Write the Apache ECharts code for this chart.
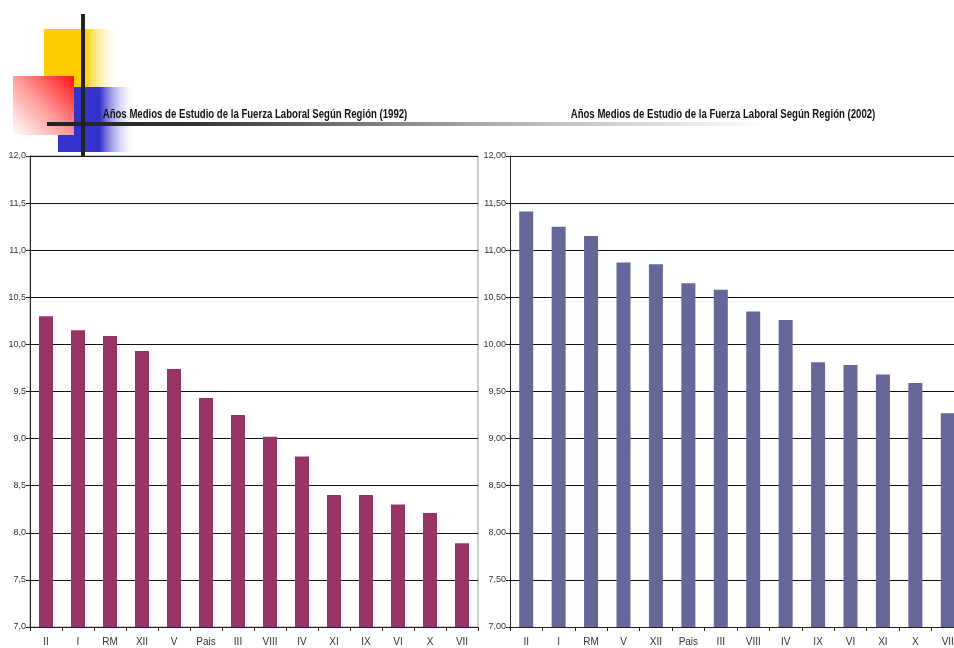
<!DOCTYPE html>
<html><head><meta charset="utf-8">
<script src="https://cdn.jsdelivr.net/npm/echarts@6/dist/echarts.min.js"></script>
<style>html,body{margin:0;padding:0;background:#fff}#c{width:954px;height:648px}</style>
</head><body><div id="c"></div>
<script>
const title1992 = 'Años Medios de Estudio de la Fuerza Laboral Según Región (1992)';
const title2002 = 'Años Medios de Estudio de la Fuerza Laboral Según Región (2002)';
const regions1992 = ['II','I','RM','XII','V','Pais','III','VIII','IV','XI','IX','VI','X','VII'];
const values1992 = [10.30,10.15,10.09,9.93,9.74,9.43,9.25,9.02,8.81,8.40,8.40,8.30,8.21,7.89];
const regions2002 = ['II','I','RM','V','XII','Pais','III','VIII','IV','IX','VI','XI','X','VII'];
const values2002 = [11.41,11.25,11.15,10.87,10.85,10.65,10.58,10.35,10.26,9.81,9.78,9.68,9.59,9.27];
const yMin = 7, yMax = 12, yStep = 0.5;

const FONT = '"Liberation Sans",Arial,sans-serif';
const chart = echarts.init(document.getElementById('c'));

function yAxis(idx, dec) {
  return {
    gridIndex: idx, type: 'value', min: yMin, max: yMax, interval: yStep,
    axisLine: {show: true, lineStyle: {color: '#222', width: 1}},
    axisTick: {show: true, length: 4, lineStyle: {color: '#222'}},
    axisLabel: {fontFamily: FONT, fontSize: 9, color: '#333', margin: 4,
      formatter: v => v.toFixed(dec).replace('.', ',')},
    splitLine: {show: true, lineStyle: {color: '#111', width: 1}}
  };
}
function xAxis(idx, cats) {
  return {
    gridIndex: idx, type: 'category', data: cats,
    axisLine: {show: true, lineStyle: {color: '#222', width: 1}},
    axisTick: {show: true, length: 4, lineStyle: {color: '#222'}},
    axisLabel: {fontFamily: FONT, fontSize: 10, color: '#333', margin: 10, interval: 0}
  };
}
function titleText(txt, cx) {
  return {type: 'text', z: 10, x: cx, y: 115, scaleX: 0.8, scaleY: 1,
    style: {text: txt, x: 0, y: 0, align: 'center', verticalAlign: 'middle',
      font: 'bold 12px ' + FONT, fill: '#111'}};
}

chart.setOption({
  animation: false,
  grid: [
    {left: 30, top: 156, width: 448, height: 471, outerBoundsMode: 'none',
     show: true, borderColor: '#999', borderWidth: 1, backgroundColor: 'transparent'},
    {left: 510, top: 156, width: 454, height: 471, outerBoundsMode: 'none'}
  ],
  xAxis: [xAxis(0, regions1992), xAxis(1, regions2002)],
  yAxis: [yAxis(0, 1), yAxis(1, 2)],
  series: [
    {type: 'bar', xAxisIndex: 0, yAxisIndex: 0, data: values1992, barWidth: 14,
     itemStyle: {color: '#993366'}},
    {type: 'bar', xAxisIndex: 1, yAxisIndex: 1, data: values2002, barWidth: 14,
     itemStyle: {color: '#666699'}}
  ],
  graphic: [
    {type: 'rect', z: 1, shape: {x: 44, y: 29, width: 76, height: 60},
     style: {fill: new echarts.graphic.LinearGradient(0, 0, 1, 0, [
       {offset: 0, color: '#FFCC00'}, {offset: 0.54, color: '#FFCC00'}, {offset: 1, color: 'rgba(255,255,255,0)'}])}},
    {type: 'rect', z: 2, shape: {x: 58, y: 87, width: 79, height: 65},
     style: {fill: new echarts.graphic.LinearGradient(0, 0, 1, 0, [
       {offset: 0, color: '#3333CC'}, {offset: 0.53, color: '#3333CC'}, {offset: 1, color: 'rgba(255,255,255,0)'}])}},
    {type: 'rect', z: 3, shape: {x: 13, y: 76, width: 61, height: 59},
     style: {fill: new echarts.graphic.LinearGradient(1, 0, 0, 1, [
       {offset: 0, color: '#FF1111'}, {offset: 0.5, color: '#FF9999'}, {offset: 1, color: '#FFFFFF'}])}},
    {type: 'rect', z: 4, shape: {x: 47, y: 122, width: 720, height: 4},
     style: {fill: new echarts.graphic.LinearGradient(0, 0, 1, 0, [
       {offset: 0, color: '#222222'}, {offset: 0.2, color: '#333333'}, {offset: 0.6, color: '#aaaaaa'}, {offset: 1, color: '#ffffff'}])}},
    {type: 'rect', z: 5, shape: {x: 81, y: 14, width: 4, height: 143}, style: {fill: '#222222'}},
    titleText(title1992, 255),
    titleText(title2002, 723)
  ]
});
</script></body></html>
